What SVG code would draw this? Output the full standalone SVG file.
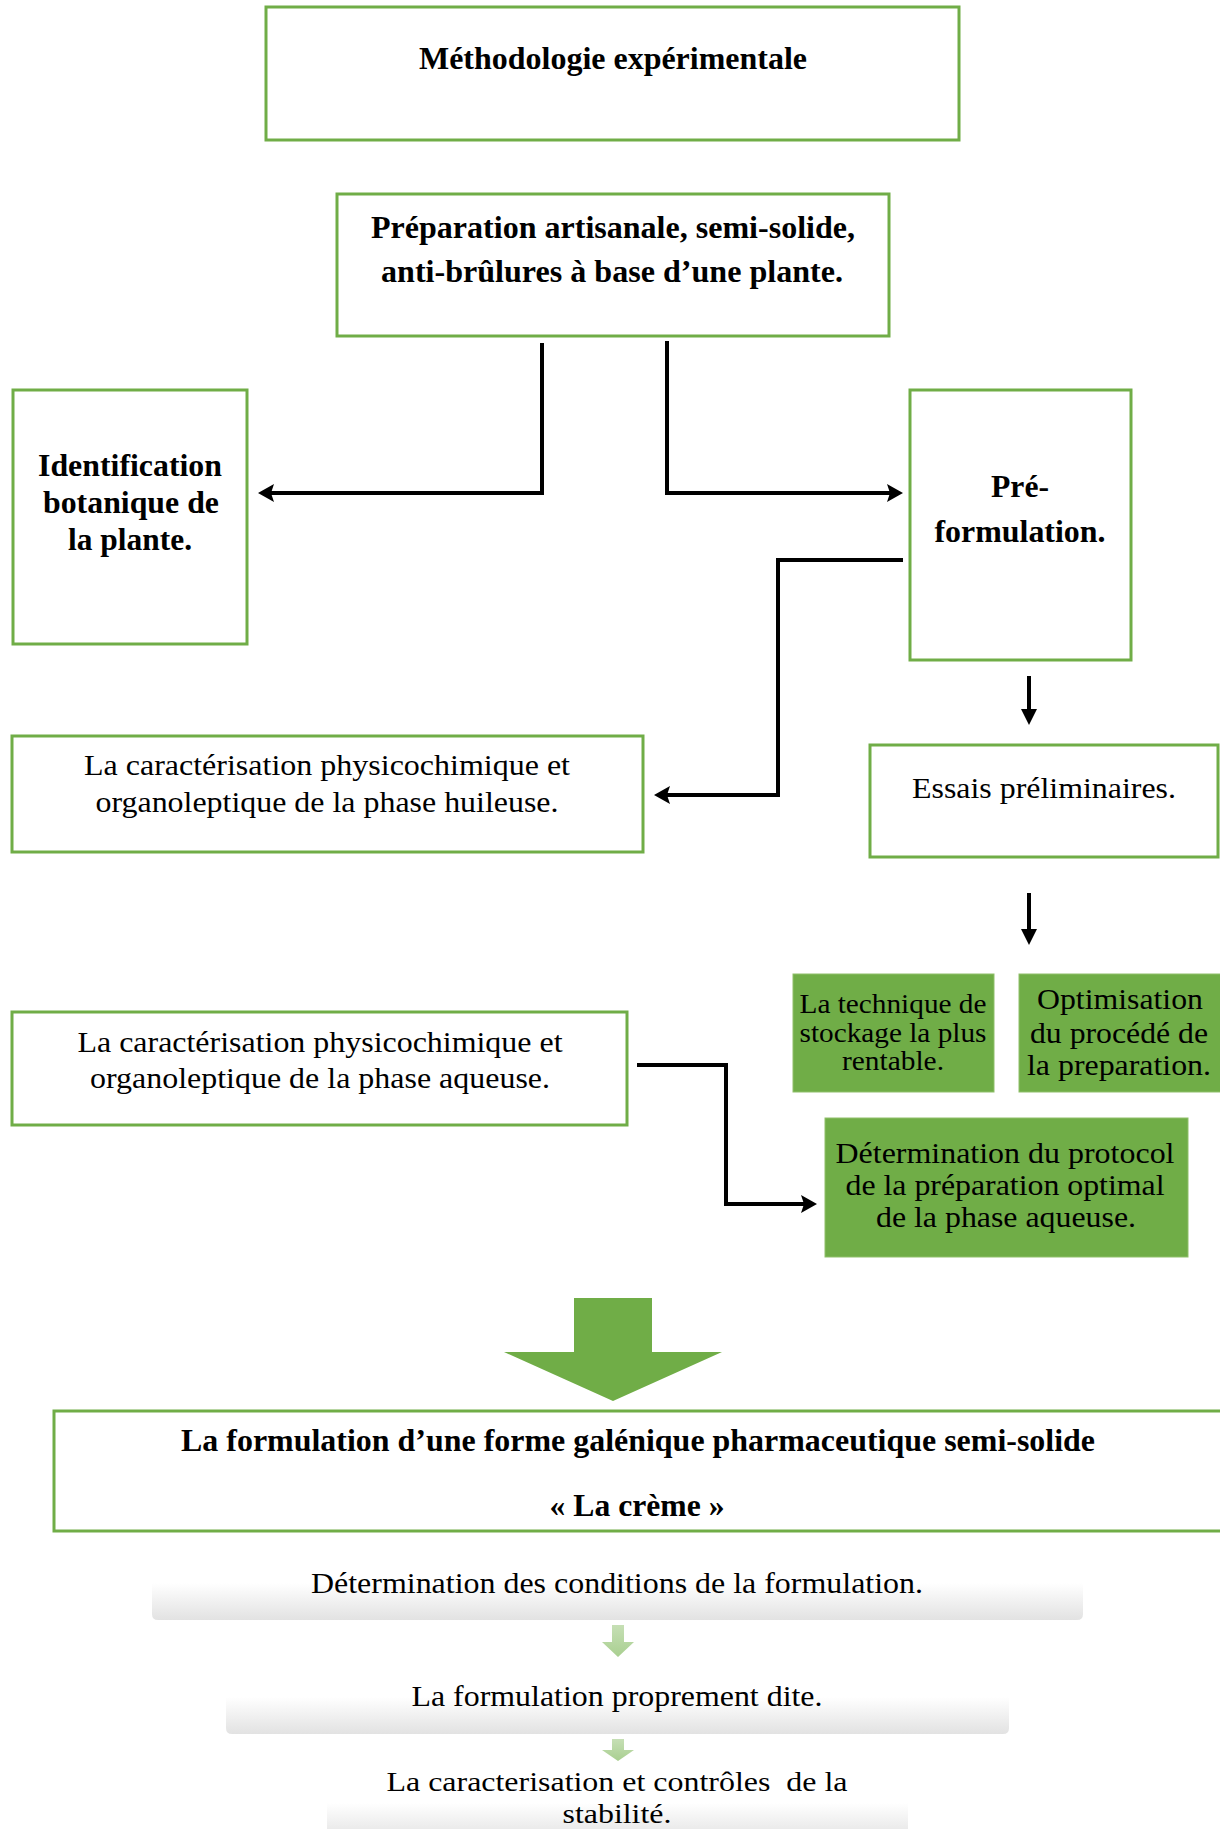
<svg xmlns="http://www.w3.org/2000/svg" width="1220" height="1829" viewBox="0 0 1220 1829">
<style>
  .box { fill: #ffffff; stroke: #70ad47; stroke-width: 3; }
  .gbox { fill: #70ad47; stroke: #8fbf6a; stroke-width: 1; }
  .t { font-family: 'Liberation Serif', 'Times New Roman', serif; font-size: 29px; fill: #000; text-anchor: middle; }
  .b { font-weight: bold; font-size: 31px; }
  .s { font-size: 27px; }
  .f { font-size: 28px; }
  .con { fill: none; stroke: #000; stroke-width: 4; }
  .dn { fill: none; stroke: #000; stroke-width: 4; }
</style>
<defs>
  <marker id="ah" markerUnits="userSpaceOnUse" markerWidth="18" markerHeight="20" refX="6" refY="9" orient="auto">
    <path d="M0,0 L16,9 L0,18 L3,9 z" fill="#000"/>
  </marker>
  <marker id="ahd" markerUnits="userSpaceOnUse" markerWidth="18" markerHeight="20" refX="6" refY="8" orient="auto">
    <path d="M0,0 L16,8 L0,16 z" fill="#000"/>
  </marker>
  <linearGradient id="gray" x1="0" y1="0" x2="0" y2="1">
    <stop offset="0" stop-color="#ffffff"/>
    <stop offset="1" stop-color="#e2e2e2"/>
  </linearGradient>
  <linearGradient id="lg" x1="0" y1="0" x2="0" y2="1">
    <stop offset="0" stop-color="#c6dfb5"/>
    <stop offset="1" stop-color="#a9cf90"/>
  </linearGradient>
</defs>

<g id="connectors">
  <path class="con" d="M542,343 V493 H268" marker-end="url(#ah)"/>
  <path class="con" d="M667,341 V493 H893" marker-end="url(#ah)"/>
  <path class="con" d="M903,560 H778 V795 H664" marker-end="url(#ah)"/>
  <path class="con" d="M637,1065 H726 V1204 H807" marker-end="url(#ah)"/>
  <path class="dn" d="M1029,676 V715" marker-end="url(#ahd)"/>
  <path class="dn" d="M1029,893 V935" marker-end="url(#ahd)"/>
  <polygon points="574,1298 652,1298 652,1352 722,1352 613,1401 504,1352 574,1352" fill="#70ad47"/>
  <polygon points="612,1625 624,1625 624,1642 634,1642 618,1657 602,1642 612,1642" fill="url(#lg)"/>
  <polygon points="612,1739 624,1739 624,1750 634,1750 618,1761 602,1750 612,1750" fill="url(#lg)"/>
</g>

<g id="n-methodologie">
  <rect class="box" x="266" y="7" width="693" height="133"/>
  <text class="t b" x="613" y="69" textLength="388" lengthAdjust="spacingAndGlyphs">Méthodologie expérimentale</text>
</g>

<g id="n-preparation">
  <rect class="box" x="337" y="194" width="552" height="142"/>
  <text class="t b" x="613" y="238" textLength="484" lengthAdjust="spacingAndGlyphs">Préparation artisanale, semi-solide,</text>
  <text class="t b" x="612" y="282" textLength="462" lengthAdjust="spacingAndGlyphs">anti-brûlures à base d’une plante.</text>
</g>

<g id="n-identification">
  <rect class="box" x="13" y="390" width="234" height="254"/>
  <text class="t b" x="130" y="476" textLength="184" lengthAdjust="spacingAndGlyphs">Identification</text>
  <text class="t b" x="131" y="513" textLength="176" lengthAdjust="spacingAndGlyphs">botanique de</text>
  <text class="t b" x="130" y="550" textLength="124" lengthAdjust="spacingAndGlyphs">la plante.</text>
</g>

<g id="n-preformulation">
  <rect class="box" x="910" y="390" width="221" height="270"/>
  <text class="t b" x="1020" y="497" textLength="58" lengthAdjust="spacingAndGlyphs">Pré-</text>
  <text class="t b" x="1020" y="542" textLength="171" lengthAdjust="spacingAndGlyphs">formulation.</text>
</g>

<g id="n-huileuse">
  <rect class="box" x="12" y="736" width="631" height="116"/>
  <text class="t" x="327" y="775" textLength="486" lengthAdjust="spacingAndGlyphs">La caractérisation physicochimique et</text>
  <text class="t" x="327" y="812" textLength="463" lengthAdjust="spacingAndGlyphs">organoleptique de la phase huileuse.</text>
</g>

<g id="n-essais">
  <rect class="box" x="870" y="745" width="348" height="112"/>
  <text class="t" x="1044" y="798" textLength="264" lengthAdjust="spacingAndGlyphs">Essais préliminaires.</text>
</g>

<g id="n-technique">
  <rect class="gbox" x="793" y="974" width="201" height="118"/>
  <text class="t s" x="893" y="1013" textLength="187" lengthAdjust="spacingAndGlyphs">La technique de</text>
  <text class="t s" x="893" y="1042" textLength="187" lengthAdjust="spacingAndGlyphs">stockage la plus</text>
  <text class="t s" x="893" y="1070" textLength="102" lengthAdjust="spacingAndGlyphs">rentable.</text>
</g>

<g id="n-optimisation">
  <rect class="gbox" x="1019" y="974" width="203" height="118"/>
  <text class="t" x="1120" y="1009" textLength="166" lengthAdjust="spacingAndGlyphs">Optimisation</text>
  <text class="t" x="1119" y="1043" textLength="178" lengthAdjust="spacingAndGlyphs">du procédé de</text>
  <text class="t" x="1119" y="1075" textLength="184" lengthAdjust="spacingAndGlyphs">la preparation.</text>
</g>

<g id="n-aqueuse">
  <rect class="box" x="12" y="1012" width="615" height="113"/>
  <text class="t" x="320" y="1052" textLength="485" lengthAdjust="spacingAndGlyphs">La caractérisation physicochimique et</text>
  <text class="t" x="320" y="1088" textLength="460" lengthAdjust="spacingAndGlyphs">organoleptique de la phase aqueuse.</text>
</g>

<g id="n-determination-protocol">
  <rect class="gbox" x="825" y="1118" width="363" height="139"/>
  <text class="t" x="1005" y="1163" textLength="339" lengthAdjust="spacingAndGlyphs">Détermination du protocol</text>
  <text class="t" x="1005" y="1195" textLength="319" lengthAdjust="spacingAndGlyphs">de la préparation optimal</text>
  <text class="t" x="1006" y="1227" textLength="260" lengthAdjust="spacingAndGlyphs">de la phase aqueuse.</text>
</g>

<g id="n-formulation">
  <rect class="box" x="54" y="1411" width="1170" height="120"/>
  <text class="t b" x="638" y="1451" textLength="914" lengthAdjust="spacingAndGlyphs">La formulation d’une forme galénique pharmaceutique semi-solide</text>
  <text class="t b" x="637" y="1516" textLength="175" lengthAdjust="spacingAndGlyphs">« La crème »</text>
</g>

<g id="n-conditions">
  <path d="M152,1583 H1083 V1614 Q1083,1620 1077,1620 H158 Q152,1620 152,1614 Z" fill="url(#gray)"/>
  <text class="t" x="617" y="1593" textLength="612" lengthAdjust="spacingAndGlyphs">Détermination des conditions de la formulation.</text>
</g>

<g id="n-proprement">
  <path d="M226,1697 H1009 V1728 Q1009,1734 1003,1734 H232 Q226,1734 226,1728 Z" fill="url(#gray)"/>
  <text class="t" x="617" y="1706" textLength="411" lengthAdjust="spacingAndGlyphs">La formulation proprement dite.</text>
</g>

<g id="n-stabilite">
  <path d="M327,1803 H908 V1840 H327 Z" fill="url(#gray)"/>
  <text class="t f" x="617" y="1791" textLength="461" lengthAdjust="spacingAndGlyphs" xml:space="preserve">La caracterisation et contrôles  de la</text>
  <text class="t f" x="617" y="1823" textLength="109" lengthAdjust="spacingAndGlyphs">stabilité.</text>
</g>
</svg>
